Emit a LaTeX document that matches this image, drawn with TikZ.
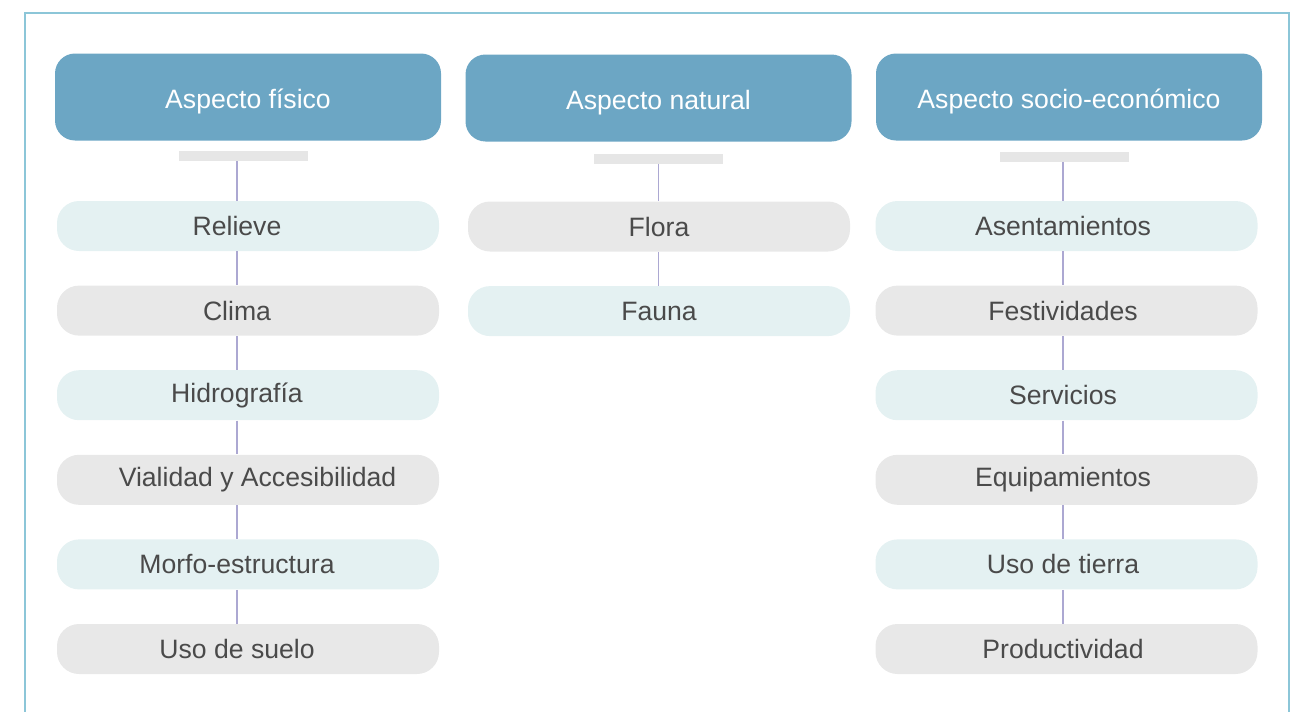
\documentclass[tikz,border=0pt]{standalone}
\usepackage{fontspec}
\setmainfont{Liberation Sans}
\usetikzlibrary{positioning}
\definecolor{headblue}{HTML}{6CA6C4}
\definecolor{itemlightfill}{HTML}{E4F1F2}
\definecolor{itemgrayfill}{HTML}{E8E8E8}
\definecolor{bargray}{HTML}{E6E6E6}
\definecolor{itemtext}{HTML}{4A4A4A}
\definecolor{linkpurple}{HTML}{ACA8D2}
\definecolor{frameblue}{HTML}{8CC6D8}

\begin{document}
\begin{tikzpicture}[x=0.5pt,y=-0.5pt,
  head/.style={fill=headblue,rounded corners=10pt,minimum width=193pt,minimum height=43.5pt,text=white,text height=11pt,text depth=0pt,font=\fontsize{13.3}{16}\selectfont},
  item/.style={rounded corners=11pt,minimum width=191pt,minimum height=25pt,text=itemtext,font=\fontsize{13.3}{16}\selectfont},
  itemlight/.style={item,fill=itemlightfill},
  itemgray/.style={item,fill=itemgrayfill},
  bar/.style={fill=bargray,minimum width=64.5pt,minimum height=5pt,inner sep=0pt},
  link/.style={draw=linkpurple,line width=0.7pt},
  nudge/.style={execute at begin node={\hspace*{#1}}},
  node distance=16.9pt]
\useasboundingbox (0,0) rectangle (1296,712);
\draw[frameblue,line width=0.8pt] (25,712) -- (25,13) -- (1289,13) -- (1289,712);

% headers
\node[head] (h1) at (248,97) {Aspecto físico};
\node[head] (h2) at (658.5,98) {Aspecto natural};
\node[head] (h3) at (1069,97) {Aspecto socio-económico};
\node[bar] (b1) at (243.5,156) {};
\node[bar] (b2) at (658.5,158.5) {};
\node[bar] (b3) at (1064.5,156.5) {};
\coordinate (l1) at (237,0);
\coordinate (l2) at (658.5,0);
\coordinate (l3) at (1063,0);

% aspecto fisico
\node[itemlight,nudge=-11pt] (r1) at (248,226) {Relieve};
\node[itemgray,nudge=-11pt,below=of r1] (r2) {Clima};
\node[itemlight,nudge=-11pt,below=of r2] (r3) {Hidrografía};
\node[itemgray,nudge=9.5pt,below=of r3] (r4) {Vialidad y Accesibilidad};
\node[itemlight,nudge=-11pt,below=of r4] (r5) {Morfo-estructura};
\node[itemgray,nudge=-11pt,below=of r5] (r6) {Uso de suelo};

% aspecto natural
\node[itemgray] (n1) at (659,226.5) {Flora};
\node[itemlight,below=of n1] (n2) {Fauna};

% aspecto socio-economico
\node[itemlight,nudge=-3.5pt] (s1) at (1066.5,226) {Asentamientos};
\node[itemgray,nudge=-3.5pt,below=of s1] (s2) {Festividades};
\node[itemlight,nudge=-3.5pt,below=of s2] (s3) {Servicios};
\node[itemgray,nudge=-3.5pt,below=of s3] (s4) {Equipamientos};
\node[itemlight,nudge=-3.5pt,below=of s4] (s5) {Uso de tierra};
\node[itemgray,nudge=-3.5pt,below=of s5] (s6) {Productividad};

\foreach \a/\b in {b1/r1,r1/r2,r2/r3,r3/r4,r4/r5,r5/r6}
  \draw[link] (\a.south -| l1) -- (\b.north -| l1);
\foreach \a/\b in {b2/n1,n1/n2}
  \draw[link] (\a.south -| l2) -- (\b.north -| l2);
\foreach \a/\b in {b3/s1,s1/s2,s2/s3,s3/s4,s4/s5,s5/s6}
  \draw[link] (\a.south -| l3) -- (\b.north -| l3);
\end{tikzpicture}
\end{document}
